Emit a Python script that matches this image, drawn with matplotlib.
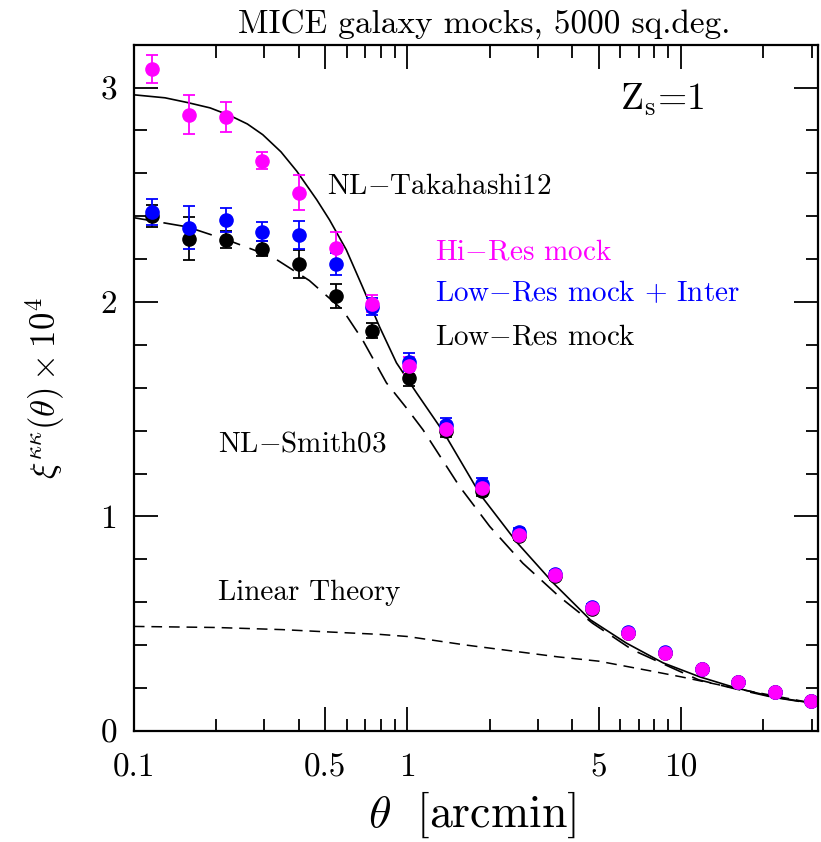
import matplotlib
matplotlib.use('Agg')
from matplotlib import pyplot as plt
from matplotlib.ticker import FixedLocator, FixedFormatter, NullFormatter

plt.rcParams['font.family'] = 'serif'
plt.rcParams['font.serif'] = ['cmr10']
plt.rcParams['mathtext.fontset'] = 'cm'
plt.rcParams['axes.formatter.use_mathtext'] = True

# measured points
theta = [0.117, 0.159, 0.217, 0.295, 0.401, 0.546, 0.743, 1.01, 1.38, 1.87,
         2.55, 3.47, 4.72, 6.42, 8.74, 11.9, 16.2, 22.0, 29.9]

hires = [3.088, 2.873, 2.864, 2.659, 2.51, 2.253, 1.992, 1.702, 1.409, 1.133,
         0.914, 0.728, 0.574, 0.457, 0.364, 0.289, 0.229, 0.182, 0.140]
hires_err = [0.065, 0.09, 0.07, 0.04, 0.08, 0.075, 0.04, 0.04, 0.03, 0.025,
             0.02, 0.015, 0.015, 0.012, 0.01, 0.01, 0.008, 0.008, 0.006]

lowinter = [2.421, 2.346, 2.383, 2.327, 2.313, 2.178, 1.978, 1.72, 1.427, 1.152,
            0.928, 0.73, 0.576, 0.46, 0.366, 0.29, 0.23, 0.183, 0.141]
lowinter_err = [0.06, 0.1, 0.055, 0.045, 0.065, 0.05, 0.04, 0.04, 0.03, 0.025,
                0.02, 0.015, 0.015, 0.012, 0.01, 0.01, 0.008, 0.008, 0.006]

lowres = [2.40, 2.295, 2.29, 2.248, 2.178, 2.029, 1.866, 1.646, 1.40, 1.12,
          0.91, 0.72, 0.57, 0.455, 0.362, 0.288, 0.228, 0.181, 0.139]
lowres_err = [0.05, 0.1, 0.04, 0.035, 0.065, 0.055, 0.035, 0.04, 0.03, 0.025,
              0.02, 0.015, 0.015, 0.012, 0.01, 0.01, 0.008, 0.008, 0.006]

# theory curves
th_tak = [0.1, 0.13, 0.157, 0.19, 0.224, 0.26, 0.296, 0.345, 0.394, 0.466,
          0.519, 0.598, 0.685, 0.791, 0.912, 1.0, 1.08, 1.36, 1.85, 2.52, 3.41,
          4.66, 6.3, 8.6, 11.7, 15.9, 21.6, 31.6]
tak = [2.966, 2.952, 2.93, 2.905, 2.87, 2.83, 2.78, 2.70, 2.61, 2.477, 2.383,
       2.243, 2.071, 1.884, 1.716, 1.64, 1.576, 1.39, 1.10, 0.877, 0.69, 0.518,
       0.41, 0.317, 0.252, 0.20, 0.159, 0.125]

th_smith = [0.1, 0.157, 0.224, 0.321, 0.438, 0.58, 0.685, 0.838, 1.0, 1.14,
            1.55, 2.0, 2.64, 3.59, 4.75, 6.64, 9.04, 11.6, 15.9, 21.6, 31.6]
smith = [2.393, 2.35, 2.285, 2.21, 2.10, 1.963, 1.824, 1.623, 1.50, 1.404,
         1.14, 0.953, 0.782, 0.626, 0.502, 0.378, 0.30, 0.238, 0.195, 0.157, 0.124]

th_lin = [0.1, 0.2, 0.35, 0.5, 0.79, 1.0, 1.64, 2.5, 3.55, 5.0, 7.7, 10.0, 17.0, 31.6]
lin = [0.487, 0.482, 0.472, 0.462, 0.45, 0.44, 0.40, 0.37, 0.345, 0.325, 0.28,
       0.252, 0.19, 0.125]

fig = plt.figure(figsize=(8.21, 8.42), dpi=100)
ax = fig.add_axes([0.163, 0.132, 0.833, 0.815])

ax.plot(th_tak, tak, color='black', lw=1.2)
ax.plot(th_smith, smith, color='black', lw=1.2, dashes=(12, 6))
ax.plot(th_lin, lin, color='black', lw=1.1, dashes=(7, 4.5))

for y, e, c in [(lowres, lowres_err, 'black'),
                (lowinter, lowinter_err, 'blue'),
                (hires, hires_err, 'magenta')]:
    ax.errorbar(theta, y, yerr=e, fmt='o', color=c, ms=9.5, capsize=4.5,
                elinewidth=1.3, capthick=1.3)

ax.set_xscale('log')
ax.set_xlim(0.1, 31.6)
ax.set_ylim(0, 3.2)

ax.xaxis.set_major_locator(FixedLocator([0.1, 0.5, 1, 5, 10]))
ax.xaxis.set_major_formatter(FixedFormatter(['0.1', '0.5', '1', '5', '10']))
ax.xaxis.set_minor_locator(FixedLocator([0.2, 0.3, 0.4, 0.6, 0.7, 0.8, 0.9,
                                         2, 3, 4, 6, 7, 8, 9, 20, 30]))
ax.xaxis.set_minor_formatter(NullFormatter())
ax.yaxis.set_major_locator(FixedLocator([0, 1, 2, 3]))
ax.yaxis.set_major_formatter(FixedFormatter(['0', '1', '2', '3']))
ax.yaxis.set_minor_locator(FixedLocator([0.2, 0.4, 0.6, 0.8, 1.2, 1.4, 1.6, 1.8,
                                         2.2, 2.4, 2.6, 2.8, 3.2]))

ax.tick_params(which='both', direction='in', top=True, right=True, width=1.3)
ax.tick_params(which='major', length=17, labelsize=24)
ax.tick_params(axis='x', which='major', pad=16)
ax.tick_params(axis='y', which='major', pad=12)
ax.tick_params(which='minor', length=9)
for s in ax.spines.values():
    s.set_linewidth(1.6)

ax.set_xlabel(r'$\theta\ \ $[arcmin]', fontsize=33, va='center')
ax.xaxis.set_label_coords(0.494, -0.122)
ax.set_ylabel(r'$\xi^{\kappa\kappa}(\theta)\times10^4$', fontsize=25, va='center')
ax.yaxis.set_label_coords(-0.13, 0.5)
ax.set_title('MICE galaxy mocks, 5000 sq.deg.', fontsize=24, x=0.513, pad=9)

tk = dict(transform=ax.transAxes, ha='left', va='center', fontsize=21)
ax.text(0.711, 0.92, r'Z$_{\rm s}$=1', transform=ax.transAxes, ha='left',
        va='center', fontsize=27)
ax.text(0.282, 0.793, r'NL$-$Takahashi12', **tk)
ax.text(0.44, 0.698, r'Hi$-$Res mock', color='magenta', **tk)
ax.text(0.44, 0.637, r'Low$-$Res mock + Inter', color='blue', **tk)
ax.text(0.44, 0.574, r'Low$-$Res mock', color='black', **tk)
ax.text(0.123, 0.418, r'NL$-$Smith03', **tk)
ax.text(0.123, 0.201, 'Linear Theory', **tk)

plt.savefig('out.png', dpi=100)
